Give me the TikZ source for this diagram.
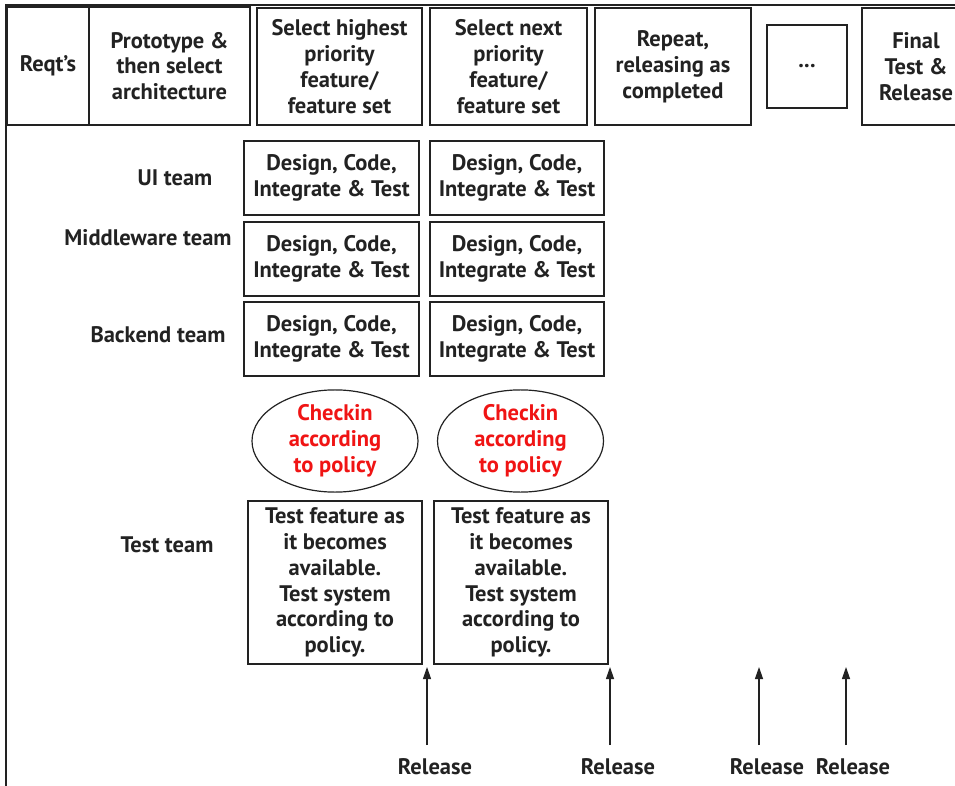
\documentclass[tikz,border=0pt]{standalone}
\usepackage{fontspec}
\setmainfont{PT Sans}
\usetikzlibrary{shapes.geometric,arrows.meta}
\definecolor{ink}{HTML}{222222}
\definecolor{checkred}{HTML}{F01414}
\newcommand{\labelfont}{\fontsize{22.5}{25.8}\selectfont\bfseries}
\tikzset{
  txt/.style={font=\labelfont, text=ink, align=center, inner sep=0pt},
  cell/.style={txt, draw=ink, line width=1.2pt},
  oval/.style={ellipse, draw=ink, line width=1.2pt, minimum width=166pt, minimum height=78pt,
    font=\labelfont, text=checkred, align=center, inner sep=0pt},
  frameline/.style={draw=ink, line width=2pt},
  relarrow/.style={draw=ink, line width=1.2pt, -{Triangle[length=12pt,width=8pt]}}
}
\begin{document}
\begin{tikzpicture}[x=1pt,y=-1pt]
\useasboundingbox (0,0) rectangle (955,786);
\fill[white] (0,0) rectangle (955,786);

% outer frame: top edge and left edge
\draw[frameline] (6,790) -- (6,5) -- (960,5);

% phase headers
\node[cell, minimum width=82pt, minimum height=118pt] (reqt) at (48,66) {Reqt's};
\node[cell, minimum width=161pt, minimum height=118pt] (proto) at (169.5,66) {Prototype \&\\then select\\architecture};
\node[cell, minimum width=165pt, minimum height=117pt] (sel1) at (339.5,66.5) {Select highest\\priority\\feature/\\feature set};
\node[cell, minimum width=157pt, minimum height=117pt] (sel2) at (508.5,66.5) {Select next\\priority\\feature/\\feature set};
\node[cell, minimum width=156pt, minimum height=117pt] (rep) at (673,66.5) {Repeat,\\releasing as\\completed};
\node[cell, minimum width=80pt, minimum height=83pt] (dots) at (807,66.5) {...};
\node[cell, minimum width=108pt, minimum height=117pt] (final) at (916,66.5) {Final\\Test \&\\Release};

% team labels
\node[txt] (ui) at (175,178) {UI team};
\node[txt] (mid) at (148,238) {Middleware team};
\node[txt] (back) at (158,335) {Backend team};
\node[txt] (test) at (167,545) {Test team};

% development cells, two iterations
\foreach \c/\x/\w in {a/331.5/175, b/517/174} {
  \node[cell, minimum width=\w pt, minimum height=74pt] (ui\c) at (\x,178) {Design, Code,\\Integrate \& Test};
  \node[cell, minimum width=\w pt, minimum height=74pt] (mid\c) at (\x,259) {Design, Code,\\Integrate \& Test};
  \node[cell, minimum width=\w pt, minimum height=74pt] (back\c) at (\x,339) {Design, Code,\\Integrate \& Test};
}

% checkin ovals
\node[oval] (cka) at (335,441) {Checkin\\according\\to policy};
\node[oval] (ckb) at (520.5,441) {Checkin\\according\\to policy};

% test cells
\node[cell, minimum width=174pt, minimum height=163pt] (testa) at (335,582.5) {Test feature as\\it becomes\\available.\\Test system\\according to\\policy.};
\node[cell, minimum width=174pt, minimum height=163pt] (testb) at (521,582.5) {Test feature as\\it becomes\\available.\\Test system\\according to\\policy.};

% release markers
\foreach \i/\ax/\lx in {1/427/435, 2/610/618, 3/759/767, 4/846/853} {
  \coordinate (rb\i) at (\ax,745);
  \coordinate (rt\i) at (\ax,667);
  \draw[relarrow] (rb\i) -- (rt\i);
  \node[txt] (rel\i) at (\lx,767) {Release};
}
\end{tikzpicture}
\end{document}
